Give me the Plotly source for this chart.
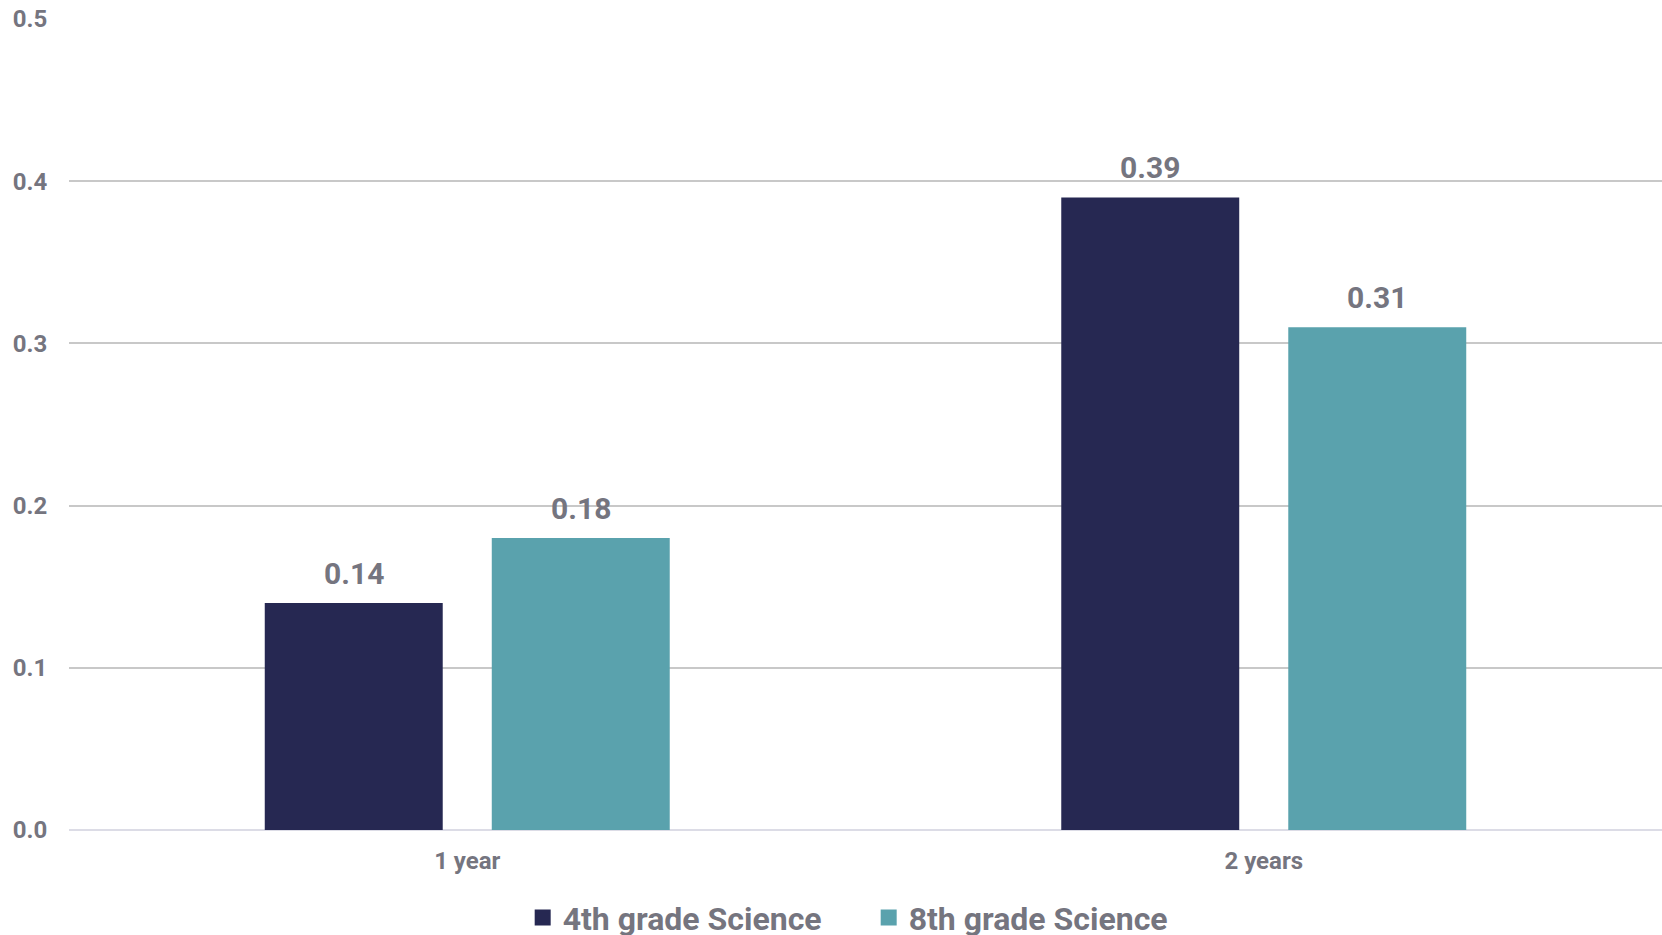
import plotly.graph_objects as go

# Data
categories = ["1 year", "2 years"]
series_names = ["4th grade Science", "8th grade Science"]
grade4_values = [0.14, 0.39]
grade8_values = [0.18, 0.31]
y_ticks = [0.0, 0.1, 0.2, 0.3, 0.4, 0.5]

colors = ["#262852", "#5aa2ad"]
label_color = "#75757f"
font_family = "Roboto, 'Open Sans', sans-serif"

W, H = 1662, 935
margin = dict(l=69, r=0, t=19, b=105, autoexpand=False)
bargap = 0.43
bargroupgap = 0.216

fig = go.Figure()
for name, vals, col in zip(series_names, [grade4_values, grade8_values], colors):
    fig.add_trace(go.Bar(
        x=categories, y=vals, name=name, marker=dict(color=col, line=dict(width=0)),
        showlegend=False, hoverinfo="skip",
    ))
    # legend entry with a larger square swatch
    fig.add_trace(go.Scatter(
        x=[None], y=[None], mode="markers", name=name,
        marker=dict(symbol="square", size=16, color=col),
    ))

# value labels above each bar
plot_w = W - margin["l"] - margin["r"]
cat_w = plot_w / len(categories)
slot = cat_w * (1 - bargap) / 2
for s, vals in enumerate([grade4_values, grade8_values]):
    shift = (s - 0.5) * slot
    for c, v in zip(categories, vals):
        fig.add_annotation(
            x=c, y=v, xref="x", yref="y", text=f"<b>{v:.2f}</b>",
            showarrow=False, xanchor="center", yanchor="bottom",
            xshift=shift, yshift=10,
            font=dict(size=30, color=label_color, family=font_family),
        )

fig.update_layout(
    width=W, height=H, margin=margin,
    paper_bgcolor="white", plot_bgcolor="white",
    barmode="group", bargap=bargap, bargroupgap=bargroupgap,
    font=dict(family=font_family, color=label_color),
    legend=dict(
        orientation="h", x=0.502, xanchor="center", xref="paper",
        y=-0.108, yanchor="middle",
        font=dict(size=32, color=label_color, family=font_family, weight="bold"),
        itemsizing="trace", entrywidth=301, entrywidthmode="pixels",
    ),
    xaxis=dict(
        showgrid=False, showline=False, zeroline=False,
        ticks="outside", ticklen=9, tickcolor="rgba(0,0,0,0)",
        tickfont=dict(size=24, color=label_color, weight="bold"),
    ),
    yaxis=dict(
        range=[0, 0.5], tickvals=y_ticks, ticktext=[f"{t:.1f}" for t in y_ticks],
        showgrid=True, gridcolor="#c8c8c8", gridwidth=2,
        zeroline=True, zerolinecolor="#dcdce6", zerolinewidth=2,
        showline=False,
        ticks="outside", ticklen=16, tickcolor="rgba(0,0,0,0)",
        tickfont=dict(size=24, color=label_color, weight="bold"),
    ),
)

fig.write_html("out.html")
